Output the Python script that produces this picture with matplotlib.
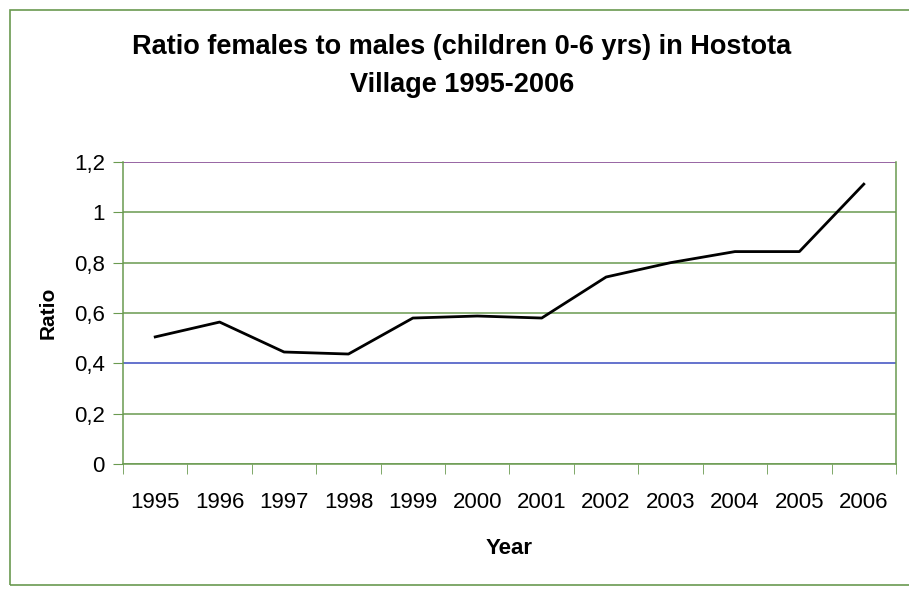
import numpy as np
import matplotlib.pyplot as plt
from matplotlib.patches import Rectangle

years = ['1995', '1996', '1997', '1998', '1999', '2000',
         '2001', '2002', '2003', '2004', '2005', '2006']
ratio = [0.505, 0.564, 0.445, 0.437, 0.58, 0.588,
         0.58, 0.743, 0.80, 0.844, 0.844, 1.112]
yticks = [0, 0.2, 0.4, 0.6, 0.8, 1.0, 1.2]
ytick_labels = ['0', '0,2', '0,4', '0,6', '0,8', '1', '1,2']

plt.rcParams['font.family'] = ['Liberation Sans', 'DejaVu Sans']

W, H = 909, 590
fig = plt.figure(figsize=(W / 100, H / 100), dpi=100)

# outer chart border
fig.patches.append(Rectangle((10 / W, (H - 585) / H), (W + 5 - 10) / W, (585 - 10) / H,
                             transform=fig.transFigure, fill=False,
                             edgecolor='#6a9a50', linewidth=1.2))

ax = fig.add_axes([123 / W, (H - 464) / H, (896 - 123) / W, (464 - 162) / H])

x = np.arange(len(years))
ax.plot(x, ratio, color='black', linewidth=2)

ax.set_xlim(-0.5, len(years) - 0.5)
ax.set_ylim(0, 1.2)

grid_colors = ['#6a9a50', '#6a9a50', '#3a4cc0', '#6a9a50', '#6a9a50', '#6a9a50', '#7a3a8a']
for yv, c in zip(yticks, grid_colors):
    ax.axhline(yv, color=c, linewidth=1.1, zorder=1)

ax.set_yticks(yticks)
ax.set_yticklabels(ytick_labels, fontsize=16)
ax.set_xticks(x)
ax.set_xticklabels(years, fontsize=16)
ax.tick_params(axis='x', which='major', length=0, pad=20)
ax.set_xticks(np.arange(-0.5, len(years)), minor=True)
ax.tick_params(axis='x', which='minor', length=7, color='#6a9a50', direction='out')
ax.tick_params(axis='y', length=7, color='#6a9a50', direction='out', pad=6)

for side in ['left', 'bottom', 'right']:
    ax.spines[side].set_color('#6a9a50')
    ax.spines[side].set_linewidth(1.1)
ax.spines['top'].set_visible(False)

ax.set_xlabel('Year', fontsize=16, fontweight='bold', labelpad=18)
ax.set_ylabel('Ratio', fontsize=15, fontweight='bold', labelpad=12)

fig.text(462 / W, 1 - 47 / H, 'Ratio females to males (children 0-6 yrs) in Hostota',
         ha='center', va='center', fontsize=19.5, fontweight='bold')
fig.text(462 / W, 1 - 85 / H, 'Village 1995-2006',
         ha='center', va='center', fontsize=19.5, fontweight='bold')

fig.savefig('out.png', dpi=100)
